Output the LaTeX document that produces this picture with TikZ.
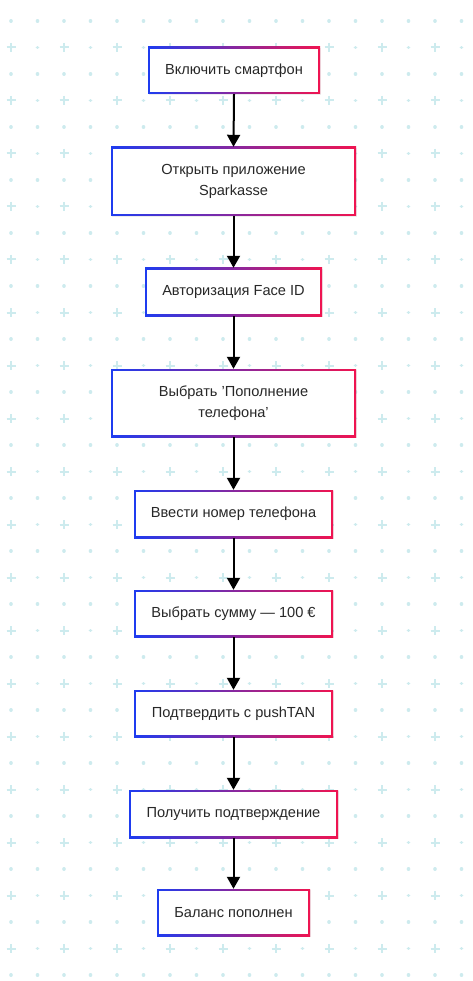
\documentclass[tikz,border=0pt]{standalone}
\usepackage{fontspec}
\setmainfont{Liberation Sans}
\usetikzlibrary{arrows.meta,shadows}
\definecolor{cblue}{RGB}{30,60,240}
\definecolor{cred}{RGB}{240,20,80}
\definecolor{gridcol}{RGB}{205,235,238}
\definecolor{txt}{RGB}{40,40,40}
\tikzset{
  flowbox/.style={inner sep=0pt, align=center, text=txt,
    font=\fontsize{14.6}{21.5}\selectfont,
    drop shadow={shadow xshift=0.8pt, shadow yshift=-0.8pt, opacity=0.07, fill=black},
    path picture={
      \shade[left color=cblue, right color=cred]
        (path picture bounding box.south west) rectangle (path picture bounding box.north east);
      \fill[white]
        ([xshift=2pt,yshift=2pt]path picture bounding box.south west) rectangle
        ([xshift=-2pt,yshift=-2pt]path picture bounding box.north east);
    }},
  arr/.style={line width=2pt, -{Triangle[width=13pt,length=12pt]}},
  gdot/.style={draw=gridcol, line width=3.4pt, line cap=round},
  gplus/.style={draw=gridcol, line width=2pt}
}
\begin{document}
\begin{tikzpicture}[x=1pt,y=-1pt]
\useasboundingbox (0,0) rectangle (472,981);
\fill[white] (0,0) rectangle (472,981);
% background grid: dots
\foreach \i in {0,...,17}{
  \foreach \j in {0,...,36}{
    \draw[gdot] ({11+26.5*\i-0.1},{21+26.5*\j}) -- ++(0.2,0);
  }
}
% background grid: pluses
\foreach \i in {0,2,...,16}{
  \foreach \j in {1,3,...,35}{
    \draw[gplus] ({11+26.5*\i-4.5},{21+26.5*\j}) -- ++(9,0)
                 ({11+26.5*\i},{21+26.5*\j-4.5}) -- ++(0,9);
  }
}
\node[flowbox, minimum width=172pt, minimum height=47pt] (n1) at (234,70.5) {Включить смартфон};
\node[flowbox, minimum width=245pt, minimum height=69pt] (n2) at (233.5,181.5) {Открыть приложение\\Sparkasse};
\node[flowbox, minimum width=177pt, minimum height=48pt] (n3) at (233.5,292) {Авторизация Face ID};
\node[flowbox, minimum width=245pt, minimum height=68pt] (n4) at (233.5,403) {Выбрать 'Пополнение\\телефона'};
\node[flowbox, minimum width=199pt, minimum height=48pt] (n5) at (233.5,514) {Ввести номер телефона};
\node[flowbox, minimum width=199pt, minimum height=47pt] (n6) at (233.5,613.5) {Выбрать сумму — 100 €};
\node[flowbox, minimum width=199pt, minimum height=47pt] (n7) at (233.5,713.5) {Подтвердить с pushTAN};
\node[flowbox, minimum width=209pt, minimum height=48pt] (n8) at (233.5,814) {Получить подтверждение};
\node[flowbox, minimum width=153pt, minimum height=47pt] (n9) at (233.5,912.5) {Баланс пополнен};
\foreach \a/\b in {n1/n2,n2/n3,n3/n4,n4/n5,n5/n6,n6/n7,n7/n8,n8/n9}{
  \draw[arr] (\a.south) -- (\b.north);
}
\end{tikzpicture}
\end{document}
